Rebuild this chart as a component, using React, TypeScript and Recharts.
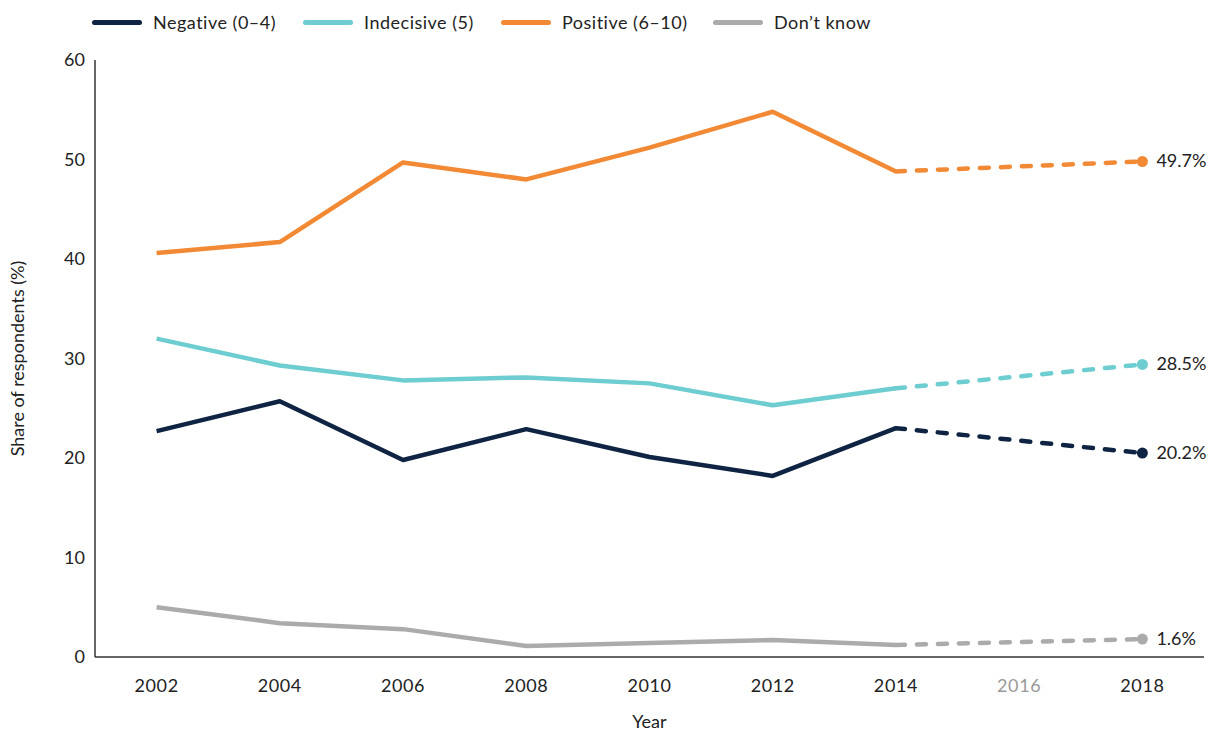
import { LineChart, Line, XAxis, YAxis, LabelList } from 'recharts';

const years = [2002, 2004, 2006, 2008, 2010, 2012, 2014, 2018];
const negative = [22.7, 25.7, 19.8, 22.9, 20.1, 18.2, 23.0, 20.5];
const indecisive = [32.0, 29.3, 27.8, 28.1, 27.5, 25.3, 27.0, 29.4];
const positive = [40.6, 41.7, 49.7, 48.0, 51.2, 54.8, 48.8, 49.8];
const dontKnow = [5.0, 3.4, 2.8, 1.1, 1.4, 1.7, 1.2, 1.8];
const endLabels = { negative: '20.2%', indecisive: '28.5%', positive: '49.7%', dontKnow: '1.6%' };
const xTicks = [2002, 2004, 2006, 2008, 2010, 2012, 2014, 2016, 2018];
const yTicks = [0, 10, 20, 30, 40, 50, 60];

const series = [
  { key: 'negative', name: 'Negative (0–4)', color: '#0f2342', values: negative, legendX: 92 },
  { key: 'indecisive', name: 'Indecisive (5)', color: '#6dcdd0', values: indecisive, legendX: 303 },
  { key: 'positive', name: 'Positive (6–10)', color: '#f28a35', values: positive, legendX: 501 },
  { key: 'dontKnow', name: 'Don’t know', color: '#ababab', values: dontKnow, legendX: 713 },
];

// solid part up to 2014, dashed from 2014 to 2018
const data = years.map((year, i) => {
  const row: any = { year };
  series.forEach((s) => {
    if (year <= 2014) row[s.key] = s.values[i];
    if (year >= 2014) row[s.key + 'Proj'] = s.values[i];
  });
  return row;
});

const FONT = 'Lato, "Open Sans", sans-serif';

const XTick = (props: any) => {
  const { x, y, payload } = props;
  return (
    <text x={x} y={y + 27} textAnchor="middle" fontSize={18} fontFamily={FONT} letterSpacing={0.6}
      fill={payload.value === 2016 ? '#9a9a9a' : '#222'}>
      {payload.value}
    </text>
  );
};

export default function App() {
  return (
    <div style={{ position: 'absolute', left: 0, top: 0, width: 1217, height: 735, fontFamily: FONT }}>
      {series.map((s) => (
        <div key={s.key} style={{ position: 'absolute', left: s.legendX, top: 11, display: 'flex', alignItems: 'center', fontSize: 18, color: '#222', letterSpacing: 0.5, whiteSpace: 'nowrap' }}>
          <div style={{ width: 50, height: 5, borderRadius: 3, background: s.color, marginRight: 11 }} />
          <span>{s.name}</span>
        </div>
      ))}
      <LineChart width={1217} height={735} data={data} margin={{ top: 60, right: 13, bottom: 0, left: 0 }}>
        <XAxis dataKey="year" type="number" domain={[2001, 2019]} ticks={xTicks} tickLine={false}
          axisLine={{ stroke: '#333', strokeWidth: 1.5 }} tick={<XTick />} height={78} interval={0}
          label={{ value: 'Year', position: 'insideBottom', offset: 7, fontSize: 18, fill: '#222', fontFamily: FONT }} />
        <YAxis type="number" domain={[0, 60]} ticks={yTicks} width={95} tickLine={false} tickMargin={4}
          axisLine={{ stroke: '#333', strokeWidth: 1.5 }} tick={{ fontSize: 18, fill: '#222', fontFamily: FONT }}
          label={{ value: 'Share of respondents (%)', angle: -90, position: 'insideLeft', offset: 18, fontSize: 18, fill: '#222', fontFamily: FONT, style: { textAnchor: 'middle' } }} />
        {series.map((s) => (
          <Line key={s.key} dataKey={s.key} stroke={s.color} strokeWidth={4.5} dot={false}
            strokeLinejoin="round" isAnimationActive={false} connectNulls={false} />
        ))}
        {series.map((s) => (
          <Line key={s.key + 'Proj'} dataKey={s.key + 'Proj'} stroke={s.color} strokeWidth={4.5}
            strokeDasharray="9 12" strokeLinecap="round" isAnimationActive={false}
            dot={(p: any) => p.payload.year === 2018
              ? <circle key={p.index} cx={p.cx} cy={p.cy} r={5.5} fill={s.color} />
              : <g key={p.index} />}>
            <LabelList dataKey={s.key + 'Proj'} content={(p: any) => p.index === years.length - 1
              ? <text x={p.x + 14} y={p.y + 6} fontSize={18} fill="#222" fontFamily={FONT}>{(endLabels as any)[s.key]}</text>
              : null} />
          </Line>
        ))}
      </LineChart>
    </div>
  );
}
